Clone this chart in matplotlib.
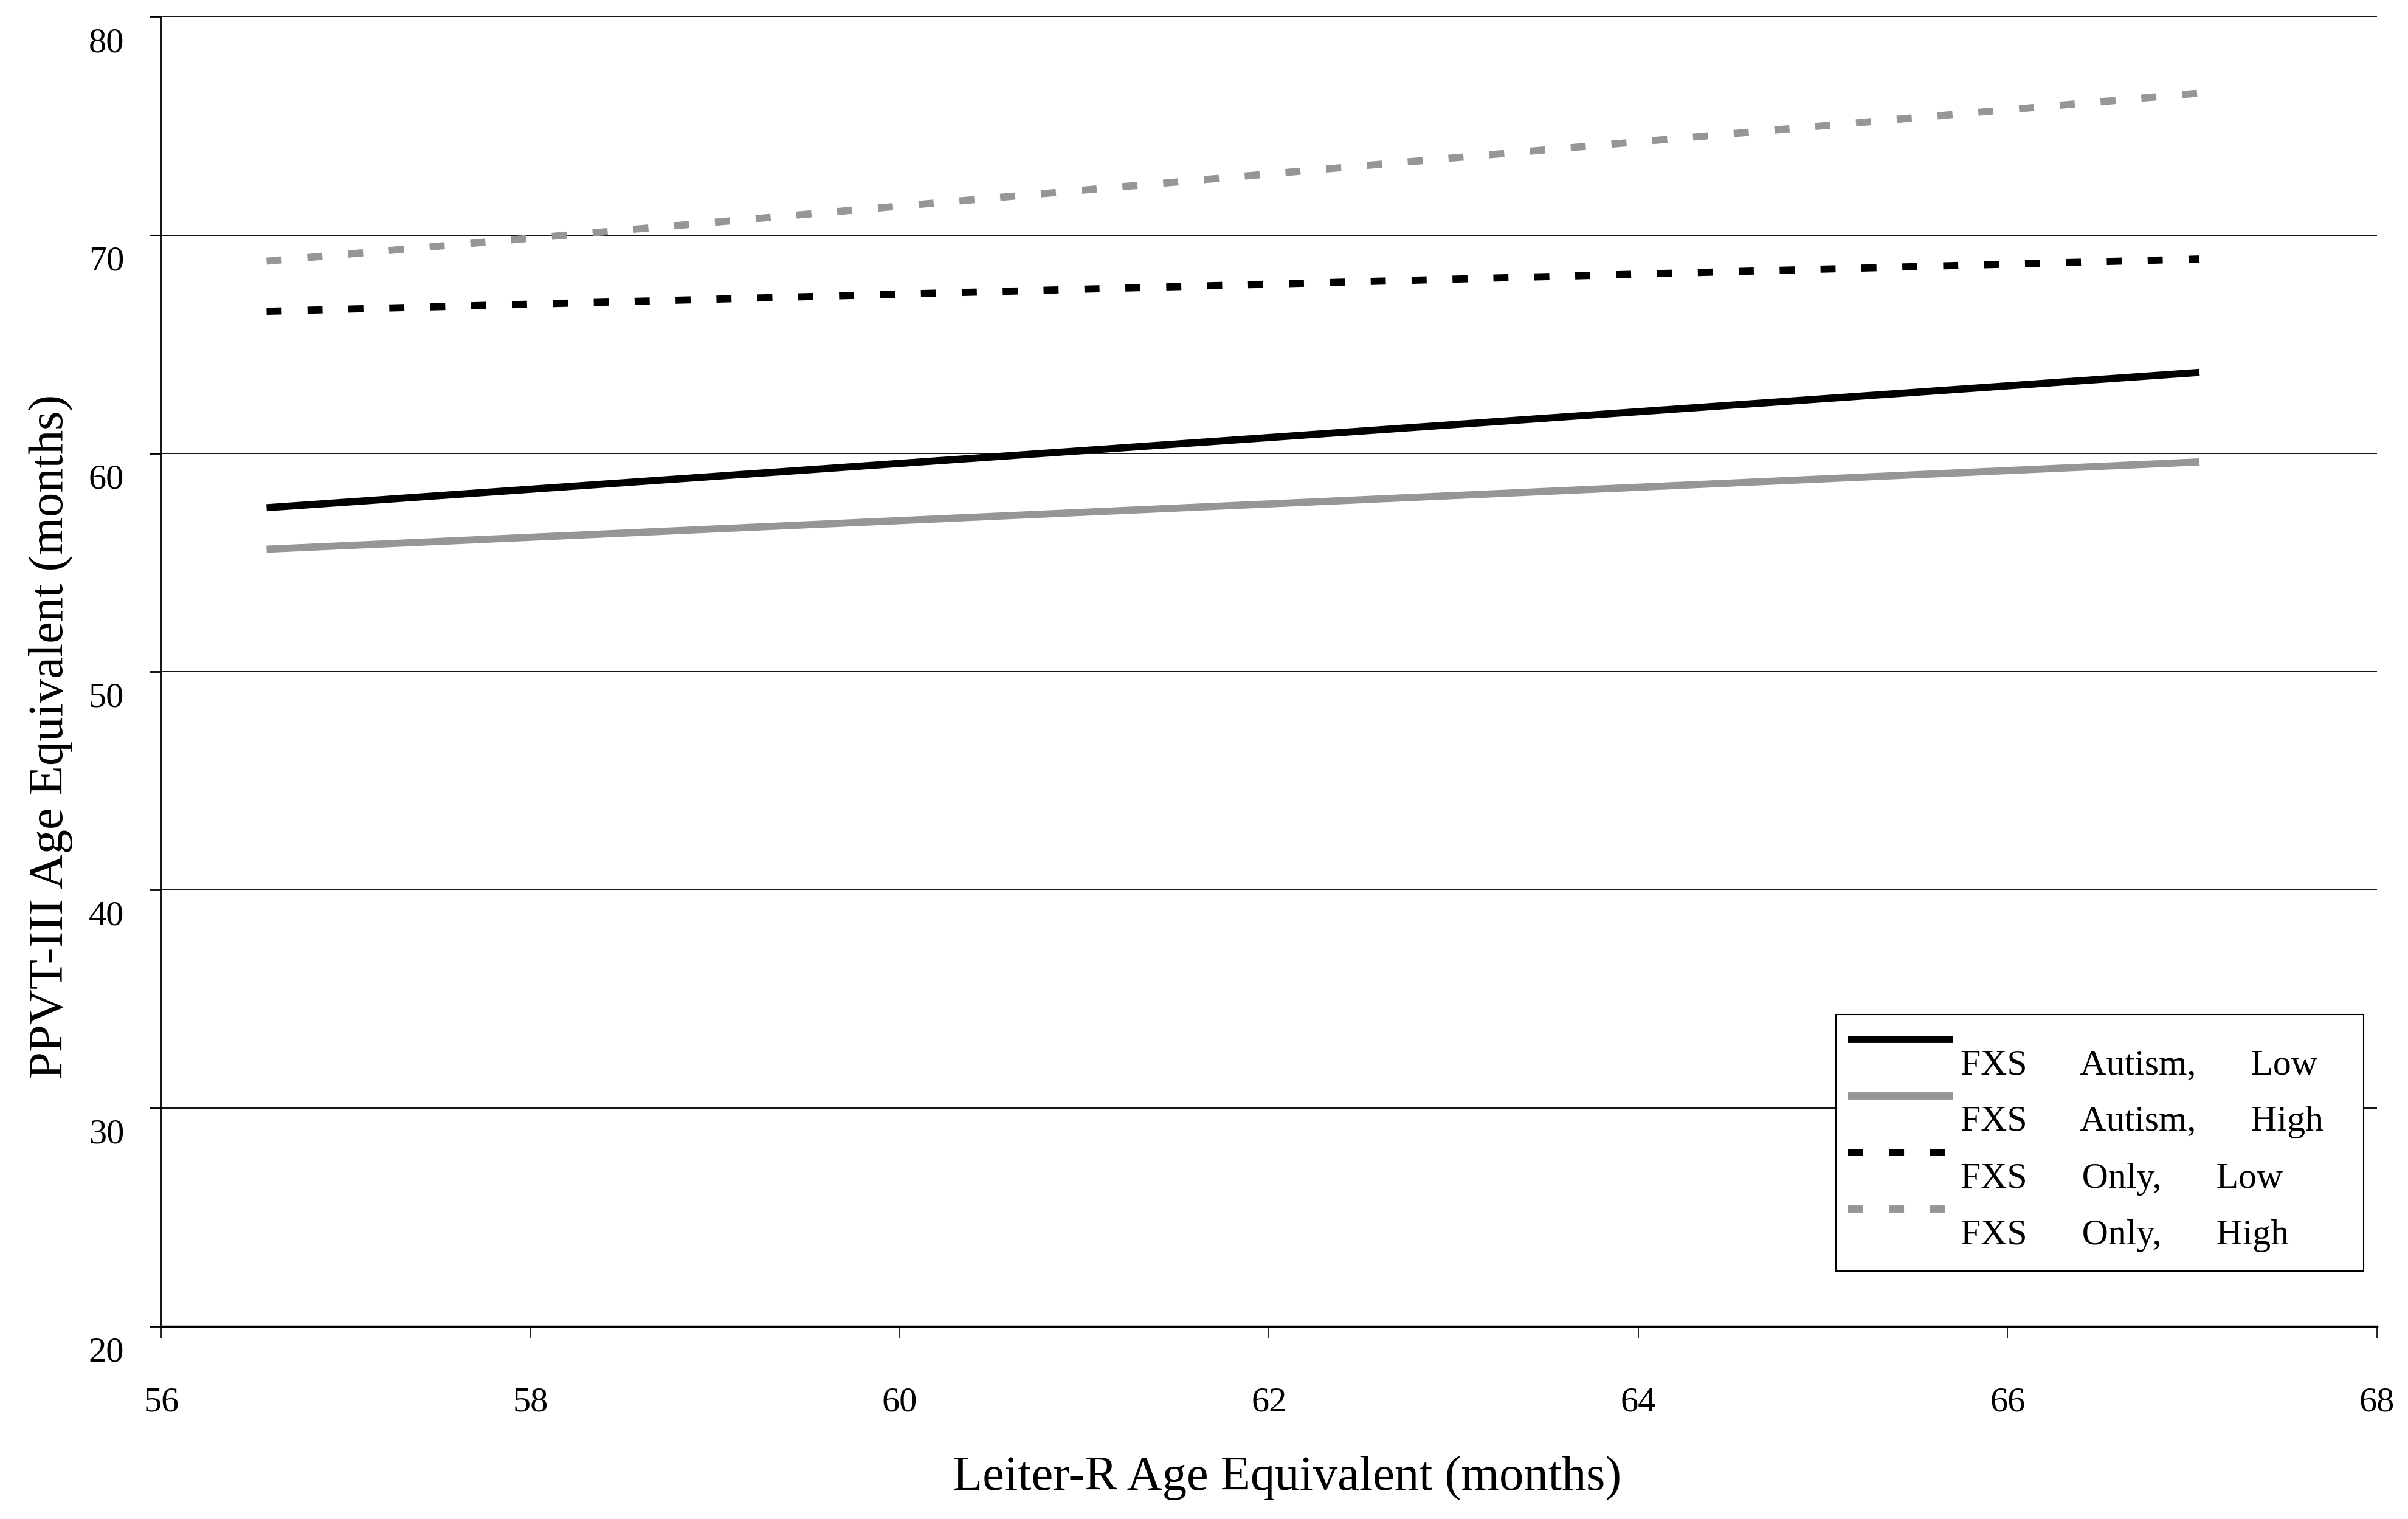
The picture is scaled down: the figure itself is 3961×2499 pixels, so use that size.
import matplotlib.pyplot as plt
import matplotlib.patches as mpatches
import matplotlib.transforms as mtransforms

plt.rcParams['font.family'] = ['Liberation Serif', 'DejaVu Serif']

# === data ===
leiter_x = [56.57, 67.04]
autism_low = [57.5, 63.7]
autism_high = [55.6, 59.6]
only_low = [66.5, 68.9]
only_high = [68.8, 76.5]

series_labels = [
    "FXS      Autism,      Low",
    "FXS      Autism,      High",
    "FXS      Only,      Low",
    "FXS      Only,      High",
]
series_values = [autism_low, autism_high, only_low, only_high]
series_colors = ["black", "#969696", "black", "#969696"]
series_dashed = [False, False, True, True]

x_ticks = [56, 58, 60, 62, 64, 66, 68]
y_ticks = [20, 30, 40, 50, 60, 70, 80]

fig = plt.figure(figsize=(39.61, 24.99), dpi=100)
ax = fig.add_axes([0.067, 0.127, 0.92, 0.862])

lw = 8.5
for vals, lab, col, dashed in zip(series_values, series_labels, series_colors, series_dashed):
    line, = ax.plot(leiter_x, vals, color=col, lw=lw, label=lab,
                    solid_capstyle='butt', dash_capstyle='butt')
    if dashed:
        line.set_dashes([2.1, 3.6])

# gridlines
for yv in y_ticks[1:]:
    ax.axhline(yv, color='black', lw=1.3, zorder=0)

ax.set_xlim(56, 68)
ax.set_ylim(20, 80)
ax.set_xticks(x_ticks)
ax.set_yticks(y_ticks)

for s in ['top', 'right']:
    ax.spines[s].set_visible(False)
ax.spines['left'].set_linewidth(1.3)
ax.spines['bottom'].set_linewidth(2.5)

ax.tick_params(axis='x', direction='out', length=14, width=1.2, pad=58, labelsize=42)
ax.tick_params(axis='y', direction='out', length=14, width=2.0, pad=30, labelsize=42)

# y tick labels sit a little below their ticks
shift = mtransforms.ScaledTranslation(0, -0.38, fig.dpi_scale_trans)
for t in ax.get_yticklabels():
    t.set_transform(t.get_transform() + shift)

ax.set_xlabel("Leiter-R Age Equivalent (months)", fontsize=58)
ax.set_ylabel("PPVT-III Age Equivalent (months)", fontsize=58)
ax.xaxis.set_label_coords(0.508, -0.099)
ax.yaxis.set_label_coords(-0.04, 0.45)

# legend: handles above their labels, inside a plain box
box_left, box_bottom, box_right, box_top = 0.756, 0.042, 0.994, 0.238
ax.add_patch(mpatches.Rectangle((box_left, box_bottom), box_right - box_left,
                                box_top - box_bottom, transform=ax.transAxes,
                                facecolor='white', edgecolor='black', lw=1.5, zorder=4))
leg = ax.legend(loc='upper left', bbox_to_anchor=(box_left, box_top), fontsize=43,
                frameon=False, handlelength=2.9, handletextpad=0.2,
                labelspacing=0.64, borderpad=0.33, borderaxespad=0)
leg.set_zorder(5)
tshift = mtransforms.ScaledTranslation(0, -0.37, fig.dpi_scale_trans)
for t in leg.get_texts():
    t.set_transform(t.get_transform() + tshift)

fig.savefig("out.png", dpi=100)
